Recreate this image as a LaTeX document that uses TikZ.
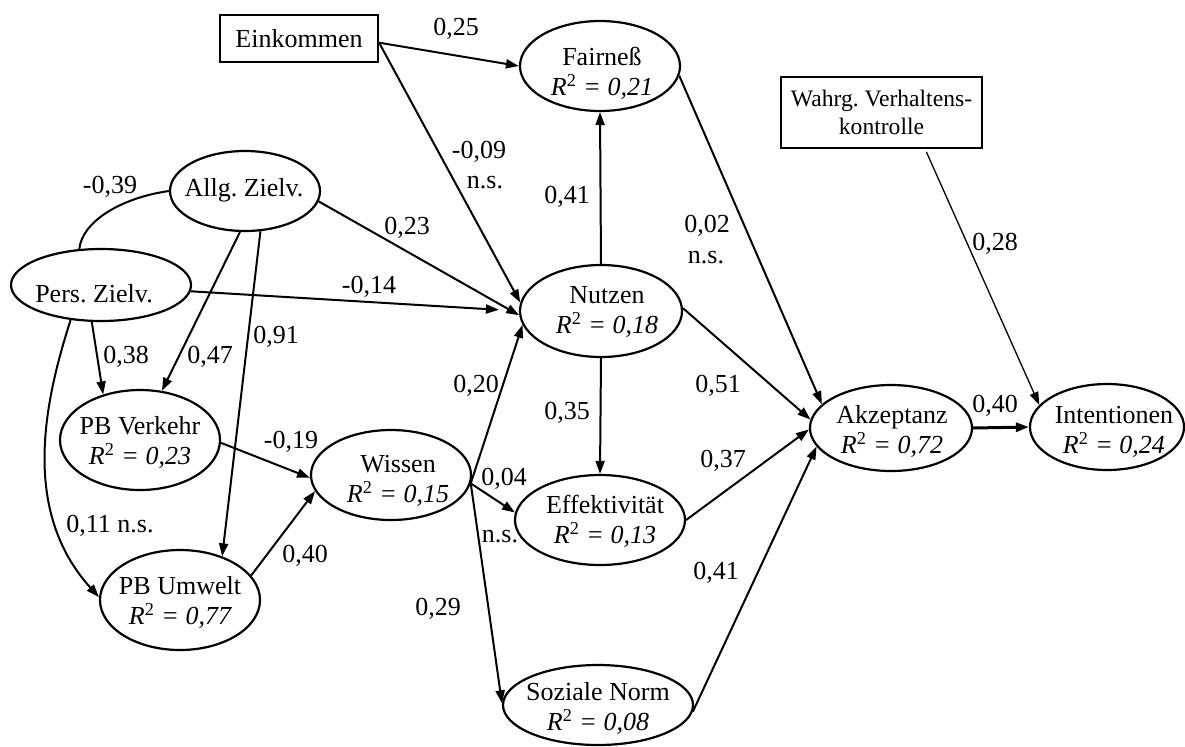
\documentclass[tikz,border=0pt]{standalone}
\usepackage{fontspec}
\setmainfont{Liberation Serif}
\usetikzlibrary{shapes.geometric,arrows.meta}
\frenchspacing
\newcommand\rsq[1]{{\itshape R\textsuperscript{\upshape 2} = #1}}
\begin{document}
\begin{tikzpicture}[x=0.5pt,y=-0.5pt,
  every node/.style={font=\fontsize{13}{15}\selectfont},
  latent/.style={ellipse,draw,line width=1.1pt,inner sep=0pt},
  manifest/.style={rectangle,draw,line width=1.1pt,inner sep=0pt},
  txt/.style={align=center,inner sep=0pt},
  lbl/.style={anchor=base,inner sep=0pt},
  arr/.style={line width=1pt,-{Triangle[length=6.5pt,width=4.5pt]}},
  thinarr/.style={arr,line width=0.65pt},
  corr/.style={line width=1pt},
]
\useasboundingbox (0,0) rectangle (1185,746);

% latent constructs
\node[latent,minimum width=80pt,minimum height=45pt] (fair)   at (600,66)  {};
\node[latent,minimum width=75pt,minimum height=40pt] (allg)   at (245,191) {};
\node[latent,minimum width=90pt,minimum height=36pt] (pers)   at (101,285) {};
\node[latent,minimum width=80pt,minimum height=50pt] (pbv)    at (140,440) {};
\node[latent,minimum width=80pt,minimum height=50pt] (pbu)    at (180,600) {};
\node[latent,minimum width=80pt,minimum height=45pt] (wissen) at (391,475) {};
\node[latent,minimum width=81pt,minimum height=46pt] (nutzen) at (601,311) {};
\node[latent,minimum width=85pt,minimum height=45pt] (effekt) at (600,520) {};
\node[latent,minimum width=95pt,minimum height=40pt] (soz)    at (598,705) {};
\node[latent,minimum width=81pt,minimum height=43pt] (akz)    at (891,428) {};
\node[latent,minimum width=77pt,minimum height=43pt] (intent) at (1107,427) {};

% construct names
\node[txt] (fairT)   at (602,73.5)  {Fairneß\\\rsq{0,21}};
\node[txt] (allgT)   at (244,190.5) {Allg. Zielv.};
\node[txt] (persT)   at (94,293.5)  {Pers. Zielv.};
\node[txt] (pbvT)    at (140,442.5) {PB Verkehr\\\rsq{0,23}};
\node[txt] (pbuT)    at (180,602)   {PB Umwelt\\\rsq{0,77}};
\node[txt] (wissenT) at (398,480.5) {Wissen\\\rsq{0,15}};
\node[txt] (nutzenT) at (607,311.5) {Nutzen\\\rsq{0,18}};
\node[txt] (effektT) at (605,521.5) {Effektivität\\\rsq{0,13}};
\node[txt] (sozT)    at (598,708.5) {Soziale Norm\\\rsq{0,08}};
\node[txt] (akzT)    at (892,431.5) {Akzeptanz\\\rsq{0,72}};
\node[txt] (intentT) at (1114,431.5) {Intentionen\\\rsq{0,24}};

% observed variables
\node[manifest,minimum width=79pt,minimum height=23.5pt] (ein) at (299,38.5) {Einkommen};
\node[manifest,minimum width=100.5pt,minimum height=35.5pt,align=center,
      font=\fontsize{11.8}{14}\selectfont] (wahrg) at (881.5,112.5) {Wahrg. Verhaltens-\\kontrolle};

% paths
\draw[arr] (ein.-3) -- (fair.180);
\draw[arr] (ein.-3) -- (nutzen.174);
\draw[arr] (nutzen.90) -- (fair.-90);
\draw[arr] (fair.-7) -- (akz.161);
\draw[thinarr,shorten <=1.5pt] (wahrg.-40.5) -- (intent.162);
\draw[arr] (allg.-8) -- (nutzen.183);
\draw[arr,shorten >=10pt] (pers.-4) -- (nutzen.180);
\draw[corr] (allg.180) .. controls (120,198) and (82,222) .. (pers.121);
\draw[arr] (pers.-104) -- (pbv.129);
\draw[arr] (allg.-97) -- (pbv.66);
\draw[arr] (allg.-69) -- (pbu.46);
\draw[arr] (pers.-131) .. controls (45,400) and (20,510) .. (pbu.178);
\draw[arr] (pbv.-2) -- (wissen.182);
\draw[arr] (pbu.19) -- (wissen.192);
\draw[arr] (wissen.-6) -- (nutzen.190);
\draw[arr] (wissen.-6) -- (effekt.175);
\draw[arr] (wissen.-6) -- (soz.179);
\draw[arr] (nutzen.-90) -- (effekt.90);
\draw[arr] (nutzen.2) -- (akz.174);
\draw[arr] (effekt.0) -- (akz.181);
\draw[arr] (soz.-4) -- (akz.194);
\draw[arr,line width=1.5pt] (akz.0) -- (intent.180);

% coefficients
\node[lbl] (c1)  at (456,35)  {0,25};
\node[lbl] (c2)  at (479,158) {-0,09};
\node[lbl] (c2b) at (485,188) {n.s.};
\node[lbl] (c3)  at (567,203) {0,41};
\node[lbl] (c4)  at (707,232) {0,02};
\node[lbl] (c4b) at (706,263) {n.s.};
\node[lbl] (c5)  at (995,250) {0,28};
\node[lbl] (c6)  at (110,193) {-0,39};
\node[lbl] (c7)  at (407,234) {0,23};
\node[lbl] (c8)  at (369,293) {-0,14};
\node[lbl] (c9)  at (276,343) {0,91};
\node[lbl] (c10) at (126,363) {0,38};
\node[lbl] (c11) at (210,363) {0,47};
\node[lbl] (c12) at (291,448) {-0,19};
\node[lbl] (c13) at (110,532) {0,11 n.s.};
\node[lbl] (c14) at (305,562) {0,40};
\node[lbl] (c15) at (476,392) {0,20};
\node[lbl] (c16) at (567,419) {0,35};
\node[lbl] (c17) at (504,485) {0,04};
\node[lbl] (c17b) at (500,542) {n.s.};
\node[lbl] (c18) at (438,615) {0,29};
\node[lbl] (c19) at (718,392) {0,51};
\node[lbl] (c20) at (723,467) {0,37};
\node[lbl] (c21) at (716,579) {0,41};
\node[lbl] (c22) at (995,412) {0,40};
\end{tikzpicture}
\end{document}
